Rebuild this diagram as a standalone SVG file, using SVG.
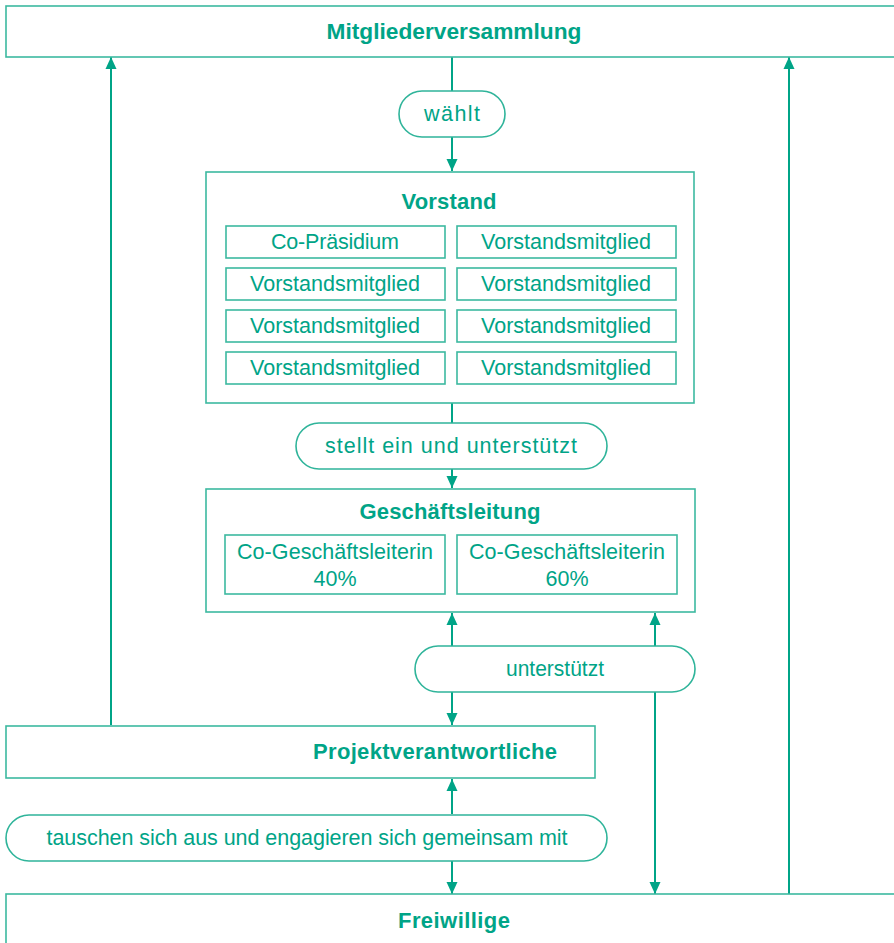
<svg xmlns="http://www.w3.org/2000/svg" width="894" height="943" viewBox="0 0 894 943">
<style>
.box{fill:#fff;stroke:#3cb9a0;stroke-width:1.6}
.pill{fill:#fff;stroke:#2fb49a;stroke-width:1.6}
.t{font-family:"Liberation Sans",Arial,sans-serif;font-size:21.5px;fill:#00a487;text-anchor:middle}
.b{font-family:"Liberation Sans",Arial,sans-serif;font-size:22px;font-weight:bold;fill:#00a487;text-anchor:middle}
.ln{stroke:#00a487;stroke-width:2;fill:none}
</style>
<defs>
<marker id="ah" viewBox="0 0 12 12" refX="12" refY="6" markerWidth="12" markerHeight="12" markerUnits="userSpaceOnUse" orient="auto">
<path d="M0,0.5 L12,6 L0,11.5 Z" fill="#00a487"/>
</marker>
</defs>
<rect width="894" height="943" fill="#fff"/>
<g id="connectors">
<line class="ln" x1="452" y1="57" x2="452" y2="91"/>
<line class="ln" x1="452" y1="137" x2="452" y2="171" marker-end="url(#ah)"/>
<line class="ln" x1="452" y1="403" x2="452" y2="423"/>
<line class="ln" x1="452" y1="469" x2="452" y2="488" marker-end="url(#ah)"/>
<line class="ln" x1="452" y1="646" x2="452" y2="613" marker-end="url(#ah)"/>
<line class="ln" x1="655" y1="646" x2="655" y2="613" marker-end="url(#ah)"/>
<line class="ln" x1="452" y1="692" x2="452" y2="725" marker-end="url(#ah)"/>
<line class="ln" x1="655" y1="692" x2="655" y2="894" marker-end="url(#ah)"/>
<line class="ln" x1="111" y1="725" x2="111" y2="57" marker-end="url(#ah)"/>
<line class="ln" x1="789" y1="894" x2="789" y2="57" marker-end="url(#ah)"/>
<line class="ln" x1="452" y1="814" x2="452" y2="779" marker-end="url(#ah)"/>
<line class="ln" x1="452" y1="861" x2="452" y2="894" marker-end="url(#ah)"/>
</g>
<g id="mitgliederversammlung">
<rect class="box" x="6" y="6" width="900" height="51"/>
<text class="b" x="454" y="39" textLength="255" lengthAdjust="spacingAndGlyphs">Mitgliederversammlung</text>
</g>
<g id="waehlt">
<rect class="pill" x="399" y="91" width="106" height="46" rx="23"/>
<text class="t" x="452" y="121" textLength="56">wählt</text>
</g>
<g id="vorstand">
<rect class="box" x="206" y="172" width="488" height="231"/>
<text class="b" x="449" y="209" textLength="95">Vorstand</text>
<rect class="box" x="226" y="226" width="219" height="32"/>
<rect class="box" x="457" y="226" width="219" height="32"/>
<rect class="box" x="226" y="268" width="219" height="32"/>
<rect class="box" x="457" y="268" width="219" height="32"/>
<rect class="box" x="226" y="310" width="219" height="32"/>
<rect class="box" x="457" y="310" width="219" height="32"/>
<rect class="box" x="226" y="352" width="219" height="32"/>
<rect class="box" x="457" y="352" width="219" height="32"/>
<text class="t" x="335" y="249" textLength="128">Co-Präsidium</text>
<text class="t" x="566" y="249" textLength="170" lengthAdjust="spacingAndGlyphs">Vorstandsmitglied</text>
<text class="t" x="335" y="291" textLength="170" lengthAdjust="spacingAndGlyphs">Vorstandsmitglied</text>
<text class="t" x="566" y="291" textLength="170" lengthAdjust="spacingAndGlyphs">Vorstandsmitglied</text>
<text class="t" x="335" y="333" textLength="170" lengthAdjust="spacingAndGlyphs">Vorstandsmitglied</text>
<text class="t" x="566" y="333" textLength="170" lengthAdjust="spacingAndGlyphs">Vorstandsmitglied</text>
<text class="t" x="335" y="375" textLength="170" lengthAdjust="spacingAndGlyphs">Vorstandsmitglied</text>
<text class="t" x="566" y="375" textLength="170" lengthAdjust="spacingAndGlyphs">Vorstandsmitglied</text>
</g>
<g id="stellt">
<rect class="pill" x="296" y="423" width="311" height="46" rx="23"/>
<text class="t" x="451" y="453" textLength="252">stellt ein und unterstützt</text>
</g>
<g id="geschaeftsleitung">
<rect class="box" x="206" y="489" width="489" height="123"/>
<text class="b" x="450" y="519" textLength="181">Geschäftsleitung</text>
<rect class="box" x="225" y="535" width="220" height="59"/>
<rect class="box" x="457" y="535" width="220" height="59"/>
<text class="t" x="335" y="559" textLength="196">Co-Geschäftsleiterin</text>
<text class="t" x="335" y="586">40%</text>
<text class="t" x="567" y="559" textLength="196">Co-Geschäftsleiterin</text>
<text class="t" x="567" y="586">60%</text>
</g>
<g id="unterstuetzt">
<rect class="pill" x="415" y="646" width="280" height="46" rx="23"/>
<text class="t" x="555" y="676" textLength="98" lengthAdjust="spacingAndGlyphs">unterstützt</text>
</g>
<g id="projektverantwortliche">
<rect class="box" x="6" y="726" width="589" height="52"/>
<text class="b" x="435" y="759" textLength="244">Projektverantwortliche</text>
</g>
<g id="tauschen">
<rect class="pill" x="6" y="815" width="601" height="46" rx="23"/>
<text class="t" x="307" y="845" textLength="521">tauschen sich aus und engagieren sich gemeinsam mit</text>
</g>
<g id="freiwillige">
<rect class="box" x="6" y="894" width="900" height="60"/>
<text class="b" x="454" y="928" textLength="112">Freiwillige</text>
</g>
</svg>
